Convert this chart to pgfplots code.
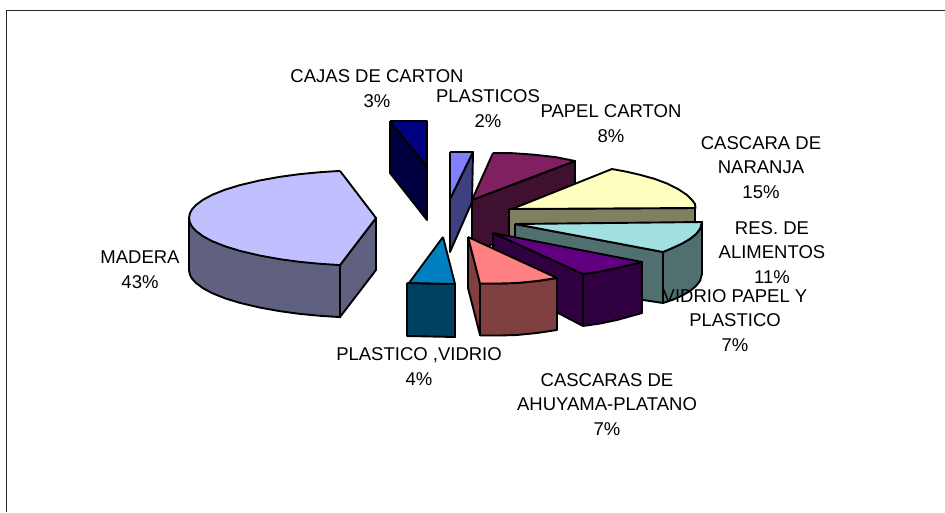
\documentclass[border=0pt]{standalone}
\usepackage{fontspec}
\setmainfont{Liberation Sans}
\usepackage{pgfplots}
\pgfplotsset{compat=1.18}
\definecolor{cartonS}{HTML}{401030}
\definecolor{cartonT}{HTML}{802060}
\definecolor{naranjaS}{HTML}{808060}
\definecolor{naranjaT}{HTML}{FFFFC0}
\definecolor{resS}{HTML}{507070}
\definecolor{resT}{HTML}{A0E0E0}
\definecolor{vidrioS}{HTML}{300040}
\definecolor{vidrioT}{HTML}{600080}
\definecolor{ahuyS}{HTML}{804040}
\definecolor{ahuyT}{HTML}{FF8080}
\definecolor{plvS}{HTML}{004060}
\definecolor{plvT}{HTML}{0080C0}
\definecolor{plaS}{HTML}{404080}
\definecolor{plaT}{HTML}{8080FF}
\definecolor{cajaS}{HTML}{000040}
\definecolor{cajaT}{HTML}{000080}
\definecolor{madS}{HTML}{606080}
\definecolor{madT}{HTML}{C0C0FF}
\pgfplotsset{
  piece/.style={draw=black, line width=1.9pt, line join=round, fill=#1, mark=none, forget plot},
}
\tikzset{lab/.style={align=center, font=\fontsize{18.5}{24.6}\selectfont, text=black, inner sep=0pt}}
\begin{document}
\begin{tikzpicture}
\begin{axis}[
    scale only axis, ticks=none,
    axis line style={draw=none},
    width=945pt, height=512pt,
    xmin=0, xmax=945, ymin=0, ymax=512, y dir=reverse,
    clip=true,
]
% frame, only left and top are in the picture
\addplot[draw=black!85, line width=1.8pt, mark=none, forget plot] coordinates {(6.5,512) (6.5,10.5) (945,10.5)};

% papel carton 8%
\addplot[piece=cartonS] coordinates {(472,200) (575,161) (575,213) (472,252) (472,200)};
\addplot[piece=cartonT] coordinates {(493,153) (513,153.2) (533,154.6) (555,157) (575,161) (472,200) (493,153)};
% cascara de naranja 15%
\addplot[piece=naranjaS] coordinates {(509,209) (695,208) (695,222) (509,240) (509,209)};
\addplot[piece=naranjaT] coordinates {(512,209) (612,169) (627,171.8) (640,174.8) (655,179) (667,183.5) (678,189) (687,195) (692,200) (695,204) (695.5,208) (512,209)};
% res. de alimentos 11%
\addplot[piece=resS] coordinates {(515,224) (663,252) (663,303) (643,300) (515,272) (515,224)};
\addplot[piece=resS] coordinates {(663,252) (673,247.7) (682,243.6) (690,238.9) (696,234) (700,229) (702,222) (702,274) (700,281) (696,286) (690,291) (682,295.6) (673,299.7) (663,303) (663,252)};
\addplot[piece=resT] coordinates {(515,224) (702,222) (700,229) (696,234) (690,238.9) (682,243.6) (673,247.7) (663,252) (515,224)};
% vidrio papel y plastico 7%
\addplot[piece=vidrioS] coordinates {(493,233) (583,274) (583,326) (560,314) (493,285) (493,233)};
\addplot[piece=vidrioS] coordinates {(583,274) (600,271.5) (617,268) (642,262) (642,313) (617,320) (600,323.5) (583,326) (583,274)};
\addplot[piece=vidrioT] coordinates {(493,233) (642,262) (617,268) (600,271.5) (583,274) (493,233)};
% cascaras de ahuyama-platano 7%
\addplot[piece=ahuyS] coordinates {(468,237) (480,283) (480,335) (468,288) (468,237)};
\addplot[piece=ahuyS] coordinates {(480,283.5) (500,283.5) (517,283) (537,281) (557,278) (557,330) (537,333) (517,335) (500,335.5) (480,335.5) (480,283.5)};
\addplot[piece=ahuyT] coordinates {(468,237) (557,278) (537,281) (517,283) (500,283.5) (480,283.5) (468,237)};
% plastico ,vidrio 4%
\addplot[piece=plvS] coordinates {(407,283) (455,284) (455,337) (407,336) (407,283)};
\addplot[piece=plvT] coordinates {(443,237) (455,284) (409,283) (443,237)};
% plasticos 2%
\addplot[piece=plaS] coordinates {(473,152) (450,199) (450,252) (472,202) (473,152)};
\addplot[piece=plaT] coordinates {(450,152) (473,152) (450,199) (450,152)};
% cajas de carton 3%
\addplot[piece=cajaS] coordinates {(390,121) (427,167) (427,220) (390,173) (390,121)};
\addplot[piece=cajaT] coordinates {(390,121) (427,121) (427,167) (390,121)};
% madera 43%
\addplot[piece=madS] coordinates {(189,218) (189,270) (190,274.9) (192,278.6) (196,283) (203,288.2) (212,293.1) (225,298.3) (240,302.9) (260,307.6) (280,311.2) (300,313.9) (320,315.8) (340,317.1) (340,265) (189,218)};
\addplot[piece=madS] coordinates {(340,265) (376,218) (376,270) (340,317) (340,265)};
\addplot[piece=madT] coordinates {(340,170.9) (320,172.2) (300,174.1) (280,176.8) (260,180.4) (240,185.1) (225,189.7) (212,194.9) (203,199.8) (196,205) (192,209.4) (190,213.1) (189,218) (190,222.9) (192,226.6) (196,231) (203,236.2) (212,241.1) (225,246.3) (240,250.9) (260,255.6) (280,259.2) (300,261.9) (320,263.8) (340,265.1) (376,218) (340,170.9)};

% labels
\node[lab] at (axis cs:377,88.5) {CAJAS DE CARTON\\3\%};
\node[lab] at (axis cs:488,108.5) {PLASTICOS\\2\%};
\node[lab] at (axis cs:611,123.5) {PAPEL CARTON\\8\%};
\node[lab] at (axis cs:761,167.5) {CASCARA DE\\NARANJA\\15\%};
\node[lab] at (axis cs:772,252.5) {RES. DE\\ALIMENTOS\\11\%};
\node[lab] at (axis cs:735,320.5) {VIDRIO PAPEL Y\\PLASTICO\\7\%};
\node[lab] at (axis cs:607,404.5) {CASCARAS DE\\AHUYAMA-PLATANO\\7\%};
\node[lab] at (axis cs:419,366.5) {PLASTICO ,VIDRIO\\4\%};
\node[lab] at (axis cs:140,269.5) {MADERA\\43\%};
\end{axis}
\end{tikzpicture}
\end{document}
